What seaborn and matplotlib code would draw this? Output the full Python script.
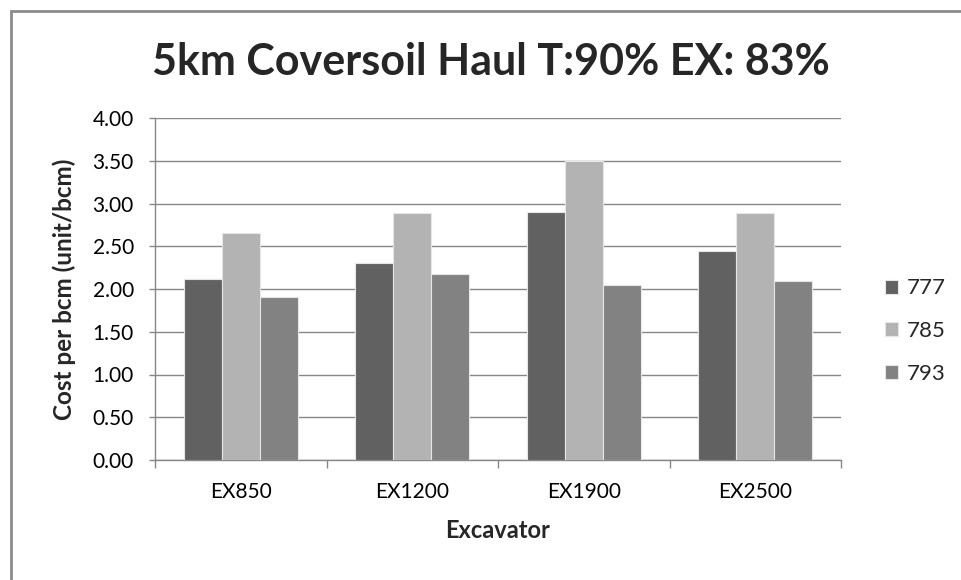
import matplotlib
matplotlib.use("Agg")
import matplotlib.pyplot as plt
import seaborn as sns
import pandas as pd
from matplotlib.patches import Rectangle

excavators = ["EX850", "EX1200", "EX1900", "EX2500"]
trucks = ["777", "785", "793"]
cost_777 = [2.12, 2.30, 2.90, 2.44]
cost_785 = [2.65, 2.89, 3.50, 2.89]
cost_793 = [1.91, 2.17, 2.05, 2.09]
y_ticks = [0.0, 0.5, 1.0, 1.5, 2.0, 2.5, 3.0, 3.5, 4.0]

rows = []
for truck, vals in zip(trucks, [cost_777, cost_785, cost_793]):
    for ex, v in zip(excavators, vals):
        rows.append({"Excavator": ex, "Truck": truck, "Cost": v})
df = pd.DataFrame(rows)

sns.set_theme(style="white")
plt.rcParams["font.family"] = ["Lato", "DejaVu Sans"]

fig = plt.figure(figsize=(9.61, 5.80), dpi=100)
ax = fig.add_axes([155 / 961, 1 - 460 / 580, (841 - 155) / 961, (460 - 118) / 580])

palette = {"777": "#616161", "785": "#b3b3b3", "793": "#828282"}
sns.barplot(data=df, x="Excavator", y="Cost", hue="Truck", order=excavators,
            hue_order=trucks, palette=palette, width=0.667, saturation=1,
            edgecolor="#e6e6e6", linewidth=0.8, ax=ax, zorder=3)

ax.set_ylim(0, 4)
ax.set_xlim(-0.5, len(excavators) - 0.5)
ax.set_yticks(y_ticks)
ax.set_yticklabels([f"{t:.2f}" for t in y_ticks])
ax.yaxis.grid(True, color="#878787", linewidth=1.0, zorder=0)
ax.set_axisbelow(True)

for side in ["top", "right"]:
    ax.spines[side].set_visible(False)
for side in ["left", "bottom"]:
    ax.spines[side].set_color("#878787")
    ax.spines[side].set_linewidth(1.0)

ax.tick_params(axis="y", which="major", left=True, length=4.3, width=1,
               color="#878787", labelsize=15, labelcolor="#000000", pad=11)
ax.set_xticks([i - 0.5 for i in range(len(excavators) + 1)], minor=True)
ax.tick_params(axis="x", which="minor", bottom=True, length=6, width=1,
               color="#878787")
ax.tick_params(axis="x", which="major", length=0, labelsize=15,
               labelcolor="#000000", pad=16)

ax.set_xlabel("Excavator", fontsize=17, fontweight="bold", labelpad=12)
ax.set_ylabel("Cost per bcm (unit/bcm)", fontsize=17.5, fontweight="bold",
              labelpad=12)

fig.text(0.511, 1 - 62 / 580, "5km Coversoil Haul T:90% EX: 83%",
         ha="center", va="center", fontsize=31, fontweight="bold")

handles, labels = ax.get_legend_handles_labels()
ax.legend(handles, labels, loc="center left", bbox_to_anchor=(1.064, 0.377),
          frameon=False, fontsize=16, handlelength=0.6, handleheight=0.6,
          handletextpad=0.4, labelspacing=1.02, borderpad=0,
          borderaxespad=0)

fig.add_artist(Rectangle((11 / 961, -0.05), 1.1, 1 - 11 / 580 + 0.05,
                         transform=fig.transFigure, fill=False,
                         edgecolor="#8c8c8c", linewidth=2))

fig.savefig("out.png", dpi=100)
